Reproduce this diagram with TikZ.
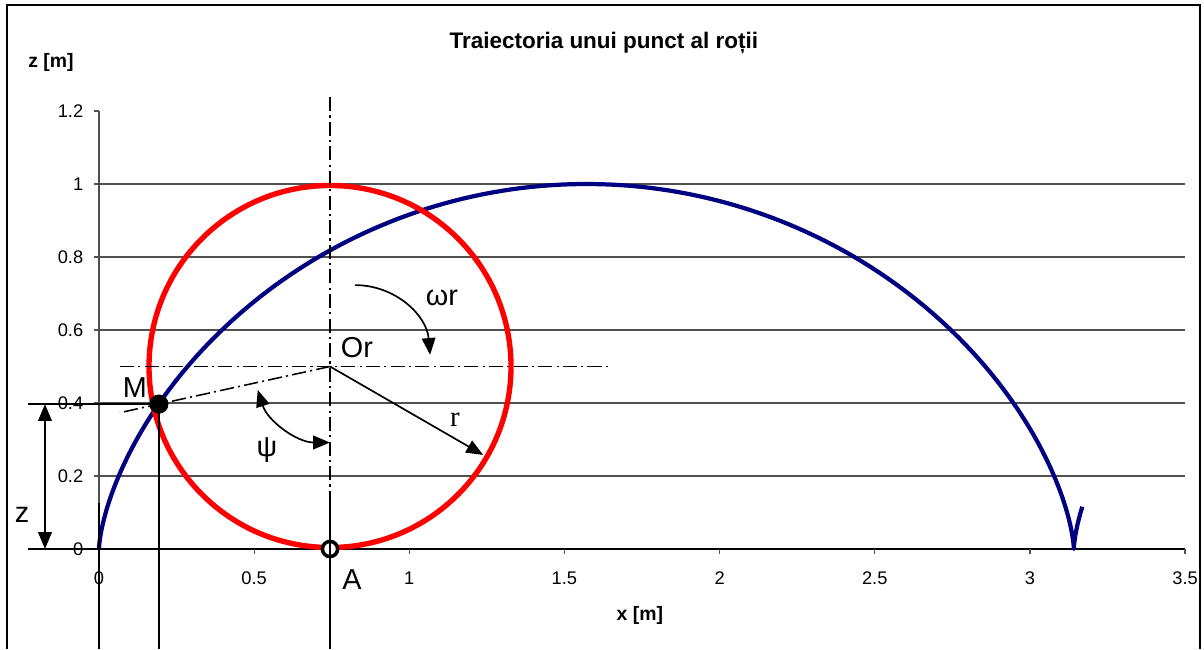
\documentclass[tikz,border=0pt]{standalone}
\usepackage{fontspec}
\setmainfont{Liberation Sans}
\newfontfamily\timesfont{Liberation Serif}
\usetikzlibrary{arrows.meta,calc}

\definecolor{wheel}{HTML}{FF0000}
\definecolor{traj}{HTML}{000080}
\definecolor{gridcol}{HTML}{505050}

\tikzset{
  ticklabel/.style={font=\fontsize{13}{14}\selectfont, inner sep=0pt},
  axisname/.style={font=\bfseries\fontsize{13.8}{15}\selectfont, inner sep=0pt},
  biglabel/.style={font=\fontsize{20.5}{22}\selectfont, inner sep=0pt},
  centerline/.style={line width=1.1pt, dash pattern=on 10pt off 3pt on 1.5pt off 3pt},
  thinline/.style={line width=1.2pt},
  arrowed/.style={-{Triangle[length=0.42cm,width=0.34cm]}},
  twoarrowed/.style={{Triangle[length=0.42cm,width=0.34cm]}-{Triangle[length=0.42cm,width=0.34cm]}},
}

\begin{document}
\begin{tikzpicture}[x=7.7575cm, y=9.125cm]
\useasboundingbox (-0.3190,-0.2740) rectangle (3.5611,1.5041);

% Chart frame (cut at the bottom)
\draw[line width=1.5pt] (-0.2965,-0.2740) -- (-0.2965,1.4904) -- (3.548,1.4904) -- (3.548,-0.2740);

% Titles
\node[font=\bfseries\fontsize{16}{18}\selectfont] (title) at (1.627,1.386) {Traiectoria unui punct al roții};
\node[axisname] (zname) at (-0.155,1.332) {z [m]};
\node[axisname] (xname) at (1.743,-0.181) {x [m]};

% Grid lines
\foreach \z in {0.2,0.4,0.6,0.8,1} {
    \draw[gridcol, line width=0.8pt] (0,\z) -- (3.5,\z);
}

% Vertical axis with ticks
\draw[gridcol, line width=0.9pt] (0,0) -- (0,1.2);
\foreach \z [count=\i] in {0,0.2,0.4,0.6,0.8,1,1.2} {
    \draw[gridcol, line width=0.9pt] (-0.0161,\z) -- (0,\z);
    \node[ticklabel, anchor=east] (zt\i) at (-0.05,\z) {\z};
}

% Horizontal axis with ticks
\draw[line width=1pt] (0,0) -- (3.5,0);
\foreach \x [count=\i] in {0,0.5,1,1.5,2,2.5,3,3.5} {
    \draw[gridcol, line width=0.9pt] (\x,0) -- (\x,-0.0137);
    \node[ticklabel] (xt\i) at (\x,-0.0795) {\x};
}

% Main points
\coordinate (Or) at (0.7445,0.5);
\coordinate (A) at (0.7445,0);
\coordinate (M) at (0.193,0.397);
\coordinate (bot) at (0,-0.2740);

% Trajectory (cycloid)
\draw[traj, line width=3pt, line join=round]
    plot[domain=0:6.98, samples=220, variable=\t] ({0.5*(\t-sin(\t r))},{0.5*(1-cos(\t r))});

% Wheel
\draw[wheel, line width=3.8pt] (Or) circle[radius=4.525cm];

% Center lines
\coordinate (vtop) at (0.7445,1.238);
\coordinate (vmid) at (0.7445,0.156);
\coordinate (hleft) at (0.0677,0.5);
\coordinate (hright) at (1.653,0.5);
\draw[centerline] (vtop) -- (vmid);
\draw[centerline] (hleft) -- (hright);
\draw[centerline] (Or) -- ($(Or)!1.228!(M)$) coordinate (mend);

% Contact point A
\draw[line width=2.5pt, fill=white] (A) circle[radius=0.19cm];
\draw[thinline] (vmid) -- (A |- bot);

% Radius
\draw[thinline, arrowed] (Or) -- ++(-30:4.42cm) coordinate (rend);

% Rotation arrow
\coordinate (w1) at (0.825,0.723);
\coordinate (w2) at (1.067,0.532);
\draw[thinline, arrowed] (w1) to[out=0, in=95] (w2);

% Angle psi
\coordinate (psiA) at ($(Or)+(198:1.9cm)$);
\draw[thinline, twoarrowed] (psiA) arc[start angle=198, end angle=270, radius=1.9cm];

% Dimension z
\coordinate (Mleft) at (-0.229,0.397);
\coordinate (Oleft) at (-0.229,0);
\coordinate (Oright) at (0.213,0);
\coordinate (ztop) at (-0.174,0.397);
\coordinate (zbot) at (-0.174,0);
\draw[thinline] (Mleft) -- (M);
\draw[line width=1.6pt] (Oleft) -- (Oright);
\draw[thinline, twoarrowed] (ztop) -- (zbot);
\draw[thinline] (0,0.126) -- (bot);
\draw[thinline] (M) -- (M |- bot);

% Point M
\fill (M) circle[radius=0.24cm];

% Labels
\node[biglabel] (Mlab) at (0.116,0.441) {M};
\node[biglabel] (Orlab) at (0.8315,0.553) {Or};
\node[biglabel] (Alab) at (0.815,-0.085) {A};
\node[biglabel] (wlab) at (1.105,0.688) {ωr};
\node[biglabel] (psilab) at (0.541,0.271) {ψ};
\node[biglabel] (zlab) at (-0.248,0.093) {z};
\node[biglabel, font=\timesfont\fontsize{20.5}{22}\selectfont] (rlab) at (1.147,0.353) {r};

\end{tikzpicture}
\end{document}
